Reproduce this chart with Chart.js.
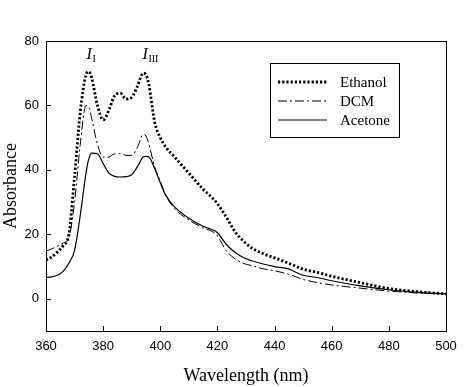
<!DOCTYPE html>
<html>
<head>
<meta charset="utf-8">
<script src="https://cdn.jsdelivr.net/npm/chart.js@4/dist/chart.umd.min.js"></script>
<style>
  html, body { margin: 0; padding: 0; background: #fff; }
  #wrap { width: 474px; height: 387px; position: relative; }
</style>
</head>
<body>
<div id="wrap"><canvas id="chart"></canvas></div>
<script>
// wavelengths (nm) shared by all three spectra
var wavelength = [360,362,364,366,368,370,372,374,375,376,378,380,382,384,386,388,390,392,394,395,396,398,400,402,405,410,415,418,420,423,426,429,432,436,440,445,450,455,460,470,480,490,500];

var ethanol = [12,13,14.5,16.5,20,38,58,69.5,70.5,68.5,60,55.5,58.5,63,63.8,62,62.5,66,70,69.5,66.5,55,50,47,44,39,34,31.5,29.5,25.5,21,18,15.8,14,12.7,11,9.2,8.2,7,5,3.2,2.2,1.5];
var dcm     = [14.8,15.5,16.3,17.3,19,30,48,60,59.5,56,48,44,44,45,45,44.5,44.5,47,51,50.5,48,41,36.5,32,28,24.5,22,21,19.5,15,12.5,11,10.3,9.3,8.7,7.6,6,5,4.3,3.3,2.4,1.8,1.5];
var acetone = [6.6,6.8,7.3,8.5,11,15,26,39,43.5,45.2,45,42,39,38,37.8,37.9,38.5,41,44,44.2,44,40.5,36,32,28.5,25,22.5,21.5,20.5,17,14.5,12.8,11.8,10.8,10,9.2,7.3,6.6,5.6,4,2.8,2,1.5];

var seriesNames = ['Ethanol', 'DCM', 'Acetone'];
var xTicks = [360,380,400,420,440,460,480,500];
var yTicks = [0,20,40,60,80];

function pts(vals) {
  return vals.map(function(v, i){ return {x: wavelength[i], y: v}; });
}

// frame, inward ticks, legend box and peak labels
var decor = {
  id: 'decor',
  afterDatasetsDraw: function(chart) {
    var ctx = chart.ctx;
    var a = chart.chartArea;
    var xs = chart.scales.x, ys = chart.scales.y;
    ctx.save();
    ctx.strokeStyle = '#000';
    ctx.lineWidth = 1;
    ctx.setLineDash([]);
    ctx.strokeRect(a.left + 0.5, a.top + 0.5, a.right - a.left, a.bottom - a.top);
    ctx.beginPath();
    xTicks.forEach(function(t){
      var px = Math.round(xs.getPixelForValue(t)) + 0.5;
      ctx.moveTo(px, a.bottom); ctx.lineTo(px, a.bottom - 5);
    });
    yTicks.forEach(function(t){
      var py = Math.round(ys.getPixelForValue(t)) + 0.5;
      ctx.moveTo(a.left, py); ctx.lineTo(a.left + 5, py);
    });
    ctx.stroke();

    // legend
    var lx = 270, ly = 63, lw = 129, lh = 74;
    ctx.strokeRect(lx + 0.5, ly + 0.5, lw, lh);
    ctx.font = '15px "Liberation Serif", "Times New Roman", serif';
    ctx.fillStyle = '#000';
    ctx.textBaseline = 'middle';
    var rows = [82, 101, 120];
    chart.data.datasets.forEach(function(ds, i){
      ctx.beginPath();
      ctx.lineWidth = ds.borderWidth;
      ctx.setLineDash(ds.borderDash || []);
      ctx.moveTo(278, rows[i]); ctx.lineTo(327, rows[i]);
      ctx.stroke();
      ctx.setLineDash([]);
      ctx.fillText(seriesNames[i], 340, rows[i] + 1);
    });

    // peak labels I_I and I_III
    function peak(xv, yv, sub) {
      var px = xs.getPixelForValue(xv), py = ys.getPixelForValue(yv);
      ctx.font = 'italic 16px "Liberation Serif", serif';
      ctx.textBaseline = 'alphabetic';
      ctx.fillText('I', px, py);
      var w = ctx.measureText('I').width;
      ctx.font = '10px "Liberation Serif", serif';
      ctx.fillText(sub, px + w + 0.5, py + 3);
    }
    peak(374.2, 74.5, 'I');
    peak(393.8, 74.5, 'III');
    ctx.restore();
  }
};

new Chart(document.getElementById('chart'), {
  type: 'line',
  data: {
    datasets: [
      { label: seriesNames[0], data: pts(ethanol), borderColor: '#000', borderWidth: 2.8, borderDash: [2.2, 2], pointRadius: 0, cubicInterpolationMode: 'monotone', fill: false },
      { label: seriesNames[1], data: pts(dcm), borderColor: '#000', borderWidth: 1, borderDash: [9, 3, 2, 3], pointRadius: 0, cubicInterpolationMode: 'monotone', fill: false },
      { label: seriesNames[2], data: pts(acetone), borderColor: '#000', borderWidth: 1.2, pointRadius: 0, cubicInterpolationMode: 'monotone', fill: false }
    ]
  },
  options: {
    responsive: true,
    maintainAspectRatio: false,
    animation: false,
    layout: { padding: { top: 41, right: 28, left: 0, bottom: 0 } },
    plugins: { legend: { display: false }, tooltip: { enabled: false } },
    scales: {
      x: {
        type: 'linear', min: 360, max: 500,
        afterFit: function(s){ s.height = 56; },
        afterBuildTicks: function(s){ s.ticks = xTicks.map(function(v){ return {value: v}; }); },
        grid: { display: false, drawTicks: false },
        border: { display: false },
        ticks: { color: '#000', padding: 8, maxRotation: 0, font: { family: '"Liberation Sans", Arial, sans-serif', size: 13 } },
        title: { display: true, text: 'Wavelength (nm)', color: '#000', padding: { top: 4, bottom: 0 }, font: { family: '"Liberation Serif", "Times New Roman", serif', size: 18 } }
      },
      y: {
        type: 'linear', min: -10, max: 80,
        afterFit: function(s){ s.width = 46; },
        afterBuildTicks: function(s){ s.ticks = yTicks.map(function(v){ return {value: v}; }); },
        grid: { display: false, drawTicks: false },
        border: { display: false },
        ticks: { color: '#000', padding: 7, font: { family: '"Liberation Sans", Arial, sans-serif', size: 13 } },
        title: { display: true, text: 'Absorbance', color: '#000', padding: { top: 0, bottom: 0 }, font: { family: '"Liberation Serif", "Times New Roman", serif', size: 18 } }
      }
    }
  },
  plugins: [decor]
});
</script>
</body>
</html>
